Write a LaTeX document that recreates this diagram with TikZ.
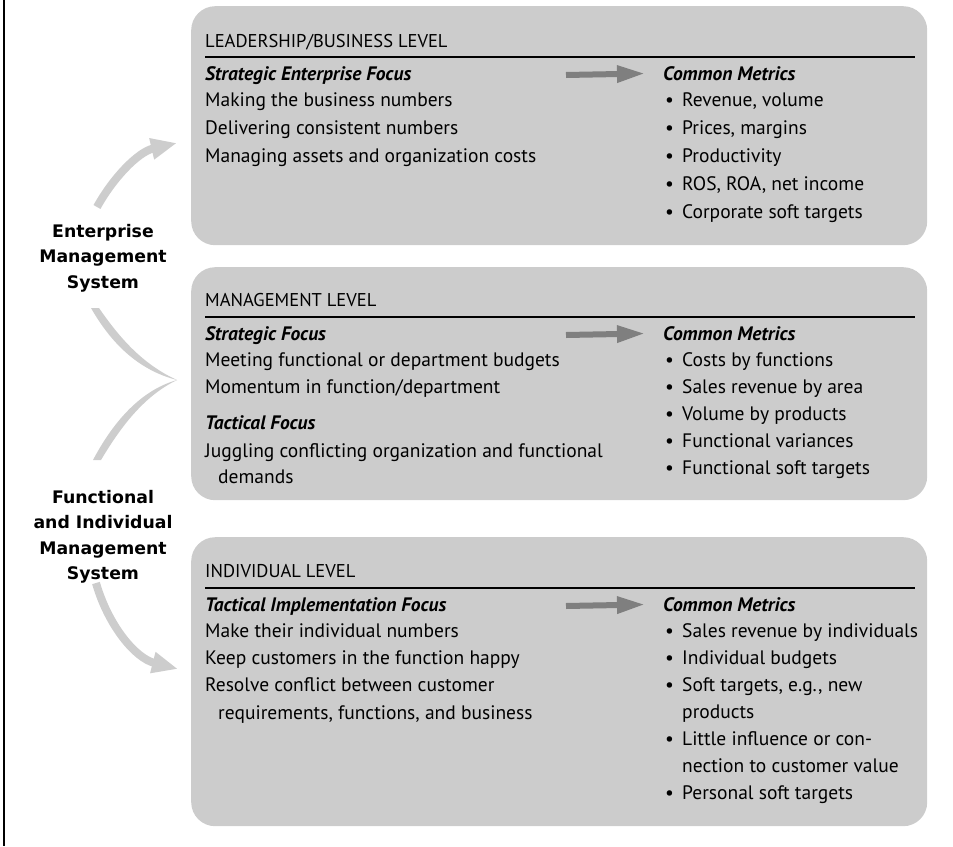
\documentclass[tikz,border=0pt]{standalone}
\usepackage{fontspec}
\setmainfont{PT Sans}
\newfontfamily\labelfont{DejaVu Sans}
\usetikzlibrary{arrows.meta,positioning,calc}
\definecolor{boxgray}{HTML}{CCCCCC}
\definecolor{swoopgray}{HTML}{CDCDCD}
\definecolor{arrowgray}{HTML}{7F7F7F}
\tikzset{levelbox/.style={fill=boxgray, rounded corners=24pt, anchor=north west,
  minimum width=736pt, inner sep=0pt},
leveltitle/.style={anchor=base west, inner sep=0pt, font=\fontsize{18.5}{22}\selectfont},
focushead/.style={anchor=base west, inner sep=0pt, font=\fontsize{19.5}{22}\selectfont\bfseries\itshape},
focustext/.style={anchor=base west, inner sep=0pt, align=left, font=\fontsize{19.5}{27.3}\selectfont},
sidelabel/.style={align=center, inner sep=0pt, font=\labelfont\fontsize{17.3}{25.5}\selectfont\bfseries},
levelrule/.style={line width=2.5pt},
metricarrow/.style={draw=arrowgray, line width=6pt, -{Triangle[length=28pt,width=16pt]}, shorten >=18pt},
swoop/.style={draw=swoopgray, line width=8pt, -{Triangle[length=26pt,width=20pt]}}}
\newcommand{\mitem}{\makebox[17pt][l]{\textbullet}}
\newcommand{\mcont}{\hspace*{17pt}}

\begin{document}
\begin{tikzpicture}[x=1pt,y=-1pt]
        \useasboundingbox (0,0) rectangle (953,846);
        \draw[line width=1.5pt] (4,0) -- (4,846);

        % level boxes
        \node[levelbox, minimum height=239pt] (lead) at (191,6) {};
        \node[levelbox, minimum height=233pt] (mgmt) at (191,267) {};
        \node[levelbox, minimum height=289pt] (indiv) at (191,537) {};

        % leadership / business level (multi-line texts sit on their last baseline)
        \node[leveltitle] (t1) at (205,47) {LEADERSHIP/BUSINESS LEVEL};
        \draw[levelrule] (205,57) -- (915,57);
        \node[focushead] (f1) at (205,80) {Strategic Enterprise Focus};
        \node[focustext, font=\fontsize{19.5}{28}\selectfont] (b1) at (205,162) {Making the business numbers\\
          Delivering consistent numbers\\Managing assets and organization costs};
        \node[focushead] (m1) at (663,80) {Common Metrics};
        \node[focustext, font=\fontsize{19.5}{28}\selectfont] (l1) at (665,218) {\mitem Revenue, volume\\
          \mitem Prices, margins\\\mitem Productivity\\\mitem ROS, ROA, net income\\
          \mitem Corporate soft targets};
        \coordinate (a1) at (566,75);
        \draw[metricarrow] (a1) -- (m1.west);

        % management level
        \node[leveltitle] (t2) at (205,306) {MANAGEMENT LEVEL};
        \draw[levelrule] (205,317) -- (915,317);
        \node[focushead] (f2) at (205,340) {Strategic Focus};
        \node[focustext, font=\fontsize{19.5}{27}\selectfont] (b2) at (205,393) {Meeting functional or department budgets\\
          Momentum in function/department};
        \node[focushead] (f2b) at (205,429) {Tactical Focus};
        \node[focustext, font=\fontsize{19.5}{25.5}\selectfont] (b2b) at (205,483) {Juggling conflicting organization and functional\\
          \hspace*{13pt}demands};
        \node[focushead] (m2) at (663,340) {Common Metrics};
        \node[focustext, font=\fontsize{19.5}{27}\selectfont] (l2) at (665,474) {\mitem Costs by functions\\
          \mitem Sales revenue by area\\\mitem Volume by products\\\mitem Functional variances\\
          \mitem Functional soft targets};
        \coordinate (a2) at (566,335);
        \draw[metricarrow] (a2) -- (m2.west);

        % individual level
        \node[leveltitle] (t3) at (205,577) {INDIVIDUAL LEVEL};
        \draw[levelrule] (205,588) -- (915,588);
        \node[focushead] (f3) at (205,611) {Tactical Implementation Focus};
        \node[focustext] (b3) at (205,719) {Make their individual numbers\\
          Keep customers in the function happy\\Resolve conflict between customer\\
          \hspace*{13pt}requirements, functions, and business};
        \node[focushead] (m3) at (663,611) {Common Metrics};
        \node[focustext, font=\fontsize{19.5}{27}\selectfont] (l3) at (665,799) {\mitem Sales revenue by individuals\\
          \mitem Individual budgets\\\mitem Soft targets, e.g., new\\\mcont products\\
          \mitem Little influence or con-\\\mcont nection to customer value\\
          \mitem Personal soft targets};
        \coordinate (a3) at (566,606);
        \draw[metricarrow] (a3) -- (m3.west);

        % system labels and swoops
        \node[sidelabel] (ems) at (103,258) {Enterprise\\Management\\System};
        \node[sidelabel] (fims) at (103,537) {Functional\\and Individual\\Management\\System};

        \coordinate (s1) at (97,207);
        \coordinate (tip1) at (177,143);
        \draw[swoop] (s1) .. controls (113,178) and (138,152) .. (tip1);

        \coordinate (tip2) at (177,380);
        \fill[swoopgray] (91,308) .. controls (111,343) and (138,370) .. (tip2)
              .. controls (142,364) and (119,337) .. (99,308) -- cycle;
        \fill[swoopgray] (93,460) .. controls (111,426) and (138,391) .. (tip2)
              .. controls (142,397) and (119,430) .. (101,460) -- cycle;

        \coordinate (s3) at (96,583);
        \coordinate (tip3) at (178,669);
        \draw[swoop] (s3) .. controls (108,625) and (135,658) .. (tip3);
    \end{tikzpicture}
\end{document}
